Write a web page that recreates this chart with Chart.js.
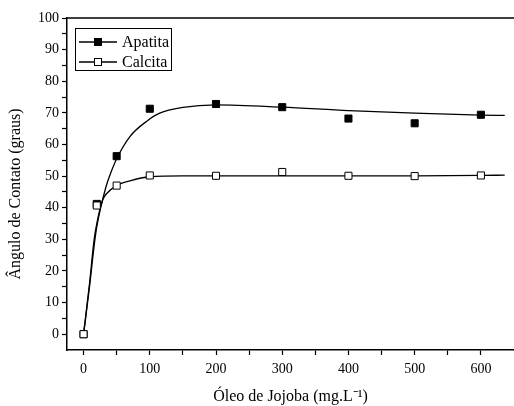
<!DOCTYPE html>
<html>
<head>
<meta charset="utf-8">
<script src="https://cdn.jsdelivr.net/npm/chart.js@4"></script>
<style>
  html, body { margin: 0; padding: 0; background: #fff; }
  #wrap { width: 514px; height: 406px; }
</style>
</head>
<body>
<div id="wrap"><canvas id="c" width="514" height="406"></canvas></div>
<script>
// measured points
const conc = [0, 20, 50, 100, 200, 300, 400, 500, 600];
const apatita = [0, 41.2, 56.3, 71.3, 72.8, 71.8, 68.2, 66.7, 69.4];
const calcita = [0, 40.7, 47.0, 50.2, 50.1, 51.3, 50.1, 50.0, 50.2];

// fitted curves
const apatitaFitX = [0, 9, 16, 20, 34, 42, 50, 70, 95, 115, 150, 200, 300, 400, 500, 600, 636];
const apatitaFitY = [0, 15, 28, 34, 46.7, 51.5, 55.5, 62.5, 67.3, 69.9, 71.7, 72.5, 71.8, 70.7, 69.9, 69.3, 69.2];
const calcitaFitX = [0, 9, 16, 20, 29, 35, 50, 70, 100, 150, 200, 300, 400, 500, 600, 636];
const calcitaFitY = [0, 16, 30, 35, 42.5, 44.5, 47, 48.5, 49.8, 50.1, 50.1, 50.1, 50.1, 50.1, 50.2, 50.3];

// ticks
const xTicks = [0, 50, 100, 150, 200, 250, 300, 350, 400, 450, 500, 550, 600];
const xLabels = [0, 100, 200, 300, 400, 500, 600];
const yTicks = [0, 5, 10, 15, 20, 25, 30, 35, 40, 45, 50, 55, 60, 65, 70, 75, 80, 85, 90, 95, 100];
const yLabels = [0, 10, 20, 30, 40, 50, 60, 70, 80, 90, 100];

const serif = '"Liberation Serif", "Times New Roman", serif';

const pts = (xs, ys) => xs.map((x, i) => ({ x: x, y: ys[i] }));

const frame = {
  id: 'frame',
  afterDraw(chart) {
    const ctx = chart.ctx;
    const a = chart.chartArea;
    ctx.save();
    ctx.strokeStyle = '#000';
    ctx.lineWidth = 1.5;
    ctx.beginPath();
    ctx.moveTo(a.left, a.top);
    ctx.lineTo(a.right, a.top);
    ctx.stroke();

    // legend box
    ctx.lineWidth = 1;
    ctx.strokeRect(75.5, 28.5, 96, 42);
    const rows = [
      { label: 'Apatita', ds: chart.data.datasets[0], y: 42 },
      { label: 'Calcita', ds: chart.data.datasets[1], y: 62 }
    ];
    ctx.font = '16px ' + serif;
    ctx.textBaseline = 'middle';
    ctx.fillStyle = '#000';
    rows.forEach(r => {
      ctx.lineWidth = 1.3;
      ctx.beginPath();
      ctx.moveTo(79, r.y);
      ctx.lineTo(117, r.y);
      ctx.stroke();
      ctx.lineWidth = 1;
      ctx.fillStyle = r.ds.pointBackgroundColor;
      ctx.fillRect(94.5, r.y - 3.5, 7, 7);
      ctx.strokeRect(94.5, r.y - 3.5, 7, 7);
      ctx.fillStyle = '#000';
      ctx.fillText(r.label, 122, r.y + 1);
    });
    ctx.restore();
  }
};

new Chart(document.getElementById('c'), {
  type: 'scatter',
  data: {
    datasets: [
      {
        label: 'Apatita',
        data: pts(conc, apatita),
        pointStyle: 'rect',
        pointRadius: 5,
        pointBackgroundColor: '#000',
        pointBorderColor: '#000',
        pointBorderWidth: 1,
        showLine: false,
        order: 2
      },
      {
        label: 'Calcita',
        data: pts(conc, calcita),
        pointStyle: 'rect',
        pointRadius: 5,
        pointBackgroundColor: '#fff',
        pointBorderColor: '#000',
        pointBorderWidth: 1,
        showLine: false,
        order: 1
      },
      {
        label: 'Apatita fit',
        data: pts(apatitaFitX, apatitaFitY),
        showLine: true,
        pointRadius: 0,
        borderColor: '#000',
        borderWidth: 1.3,
        cubicInterpolationMode: 'monotone',
        order: 3
      },
      {
        label: 'Calcita fit',
        data: pts(calcitaFitX, calcitaFitY),
        showLine: true,
        pointRadius: 0,
        borderColor: '#000',
        borderWidth: 1.3,
        cubicInterpolationMode: 'monotone',
        order: 3
      }
    ]
  },
  options: {
    responsive: false,
    animation: false,
    layout: { autoPadding: false, padding: { top: 18, right: 0, left: 0, bottom: 0 } },
    plugins: {
      legend: { display: false },
      tooltip: { enabled: false }
    },
    scales: {
      x: {
        type: 'linear',
        min: -25,
        max: 650,
        afterBuildTicks: s => { s.ticks = xTicks.map(v => ({ value: v })); },
        afterFit: s => { s.height = 56; s.paddingLeft = 0; s.paddingRight = 0; },
        ticks: {
          color: '#000',
          font: { family: serif, size: 14 },
          padding: 6,
          maxRotation: 0,
          autoSkip: false,
          callback: v => xLabels.includes(v) ? String(v) : ''
        },
        grid: {
          drawOnChartArea: false,
          tickLength: 5,
          tickColor: '#000',
          tickWidth: 1.2
        },
        border: { color: '#000', width: 1.5 },
        title: {
          display: true,
          text: 'Óleo de Jojoba (mg.L⁻¹)',
          color: '#000',
          font: { family: serif, size: 16 },
          padding: { top: 0, bottom: 0 }
        }
      },
      y: {
        min: -5,
        max: 100,
        afterBuildTicks: s => { s.ticks = yTicks.map(v => ({ value: v })); },
        afterFit: s => { s.width = 67; s.paddingTop = 0; s.paddingBottom = 0; },
        ticks: {
          color: '#000',
          font: { family: serif, size: 14 },
          padding: 3,
          autoSkip: false,
          callback: v => yLabels.includes(v) ? String(v) : ''
        },
        grid: {
          drawOnChartArea: false,
          tickLength: 5,
          tickColor: '#000',
          tickWidth: 1.2
        },
        border: { color: '#000', width: 1.5 },
        title: {
          display: true,
          text: 'Ângulo de Contato (graus)\u00a0\u00a0\u00a0\u00a0\u00a0',
          color: '#000',
          font: { family: serif, size: 16 },
          padding: { top: 6, bottom: 0 }
        }
      }
    }
  },
  plugins: [frame]
});
</script>
</body>
</html>
